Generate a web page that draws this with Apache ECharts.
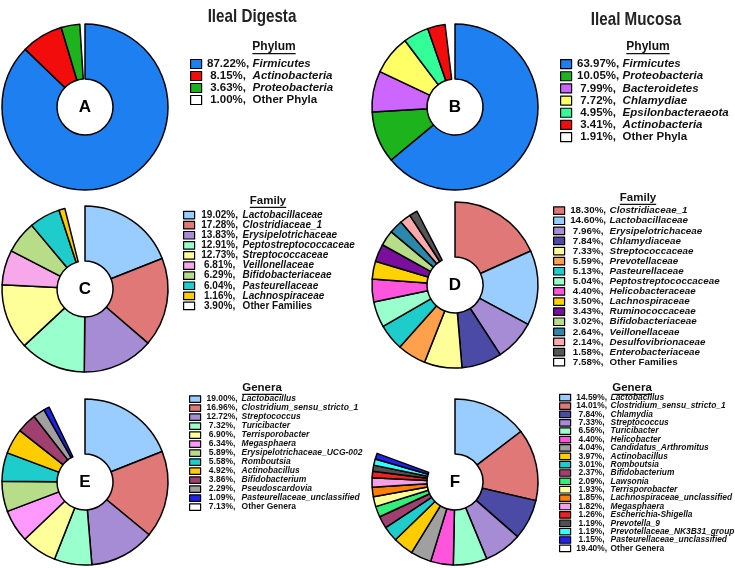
<!DOCTYPE html>
<html><head><meta charset="utf-8">
<script src="https://cdn.jsdelivr.net/npm/echarts@6/dist/echarts.min.js"></script>
<style>html,body{margin:0;padding:0;background:#fff}#c{width:735px;height:568px}</style>
</head><body><div id="c"></div>
<script>
// ---------- DATA ----------
const phylumDigestaNames  = ['Firmicutes','Actinobacteria','Proteobacteria','Other Phyla'];
const phylumDigestaValues = [87.22, 8.15, 3.63, 1.00];

const phylumMucosaNames  = ['Firmicutes','Proteobacteria','Bacteroidetes','Chlamydiae','Epsilonbacteraeota','Actinobacteria','Other Phyla'];
const phylumMucosaValues = [63.97, 10.05, 7.99, 7.72, 4.95, 3.41, 1.91];

const familyDigestaNames  = ['Lactobacillaceae','Clostridiaceae_1','Erysipelotrichaceae','Peptostreptococcaceae','Streptococcaceae','Veillonellaceae','Bifidobacteriaceae','Pasteurellaceae','Lachnospiraceae','Other Families'];
const familyDigestaValues = [19.02, 17.28, 13.83, 12.91, 12.73, 6.81, 6.29, 6.04, 1.16, 3.90];

const familyMucosaNames  = ['Clostridiaceae_1','Lactobacillaceae','Erysipelotrichaceae','Chlamydiaceae','Streptococcaceae','Prevotellaceae','Pasteurellaceae','Peptostreptococcaceae','Helicobacteraceae','Lachnospiraceae','Ruminococcaceae','Bifidobacteriaceae','Veillonellaceae','Desulfovibrionaceae','Enterobacteriaceae','Other Families'];
const familyMucosaValues = [18.30, 14.60, 7.96, 7.84, 7.33, 5.59, 5.13, 5.04, 4.40, 3.50, 3.43, 3.02, 2.64, 2.14, 1.58, 7.58];

const generaDigestaNames  = ['Lactobacillus','Clostridium_sensu_stricto_1','Streptococcus','Turicibacter','Terrisporobacter','Megasphaera','Erysipelotrichaceae_UCG-002','Romboutsia','Actinobacillus','Bifidobacterium','Pseudoscardovia','Pasteurellaceae_unclassified','Other Genera'];
const generaDigestaValues = [19.00, 16.96, 12.72, 7.32, 6.90, 6.34, 5.89, 5.58, 4.92, 3.86, 2.29, 1.09, 7.13];

const generaMucosaNames  = ['Lactobacillus','Clostridium_sensu_stricto_1','Chlamydia','Streptococcus','Turicibacter','Helicobacter','Candidatus_Arthromitus','Actinobacillus','Romboutsia','Bifidobacterium','Lawsonia','Terrisporobacter','Lachnospiraceae_unclassified','Megasphaera','Escherichia-Shigella','Prevotella_9','Prevotellaceae_NK3B31_group','Pasteurellaceae_unclassified','Other Genera'];
const generaMucosaValues = [14.59, 14.01, 7.84, 7.33, 6.56, 4.40, 4.04, 3.97, 3.01, 2.37, 2.09, 1.93, 1.85, 1.82, 1.26, 1.19, 1.19, 1.15, 19.40];

// ---------- STYLES ----------
const OTHER = null;
const phylumDigestaColors = ['#1e7ff0','#f20c0c','#1cb31c', OTHER];
const phylumMucosaColors  = ['#1e7ff0','#1cb31c','#cc66ff','#ffff66','#33ff99','#f20c0c', OTHER];
const familyDigestaColors = ['#99ccff','#e07878','#a68bd5','#99ffcc','#ffff99','#f7a8ea','#b8dd88','#1ecccc','#ffcc00', OTHER];
const familyMucosaColors  = ['#e07878','#99ccff','#a68bd5','#4b4ba5','#ffff99','#ffa04d','#1ecccc','#99ffcc','#ff55dd','#ffd200','#7a0f9e','#b8dd88','#2b88aa','#ffaaaa','#555555', OTHER];
const generaDigestaColors = ['#99ccff','#e07878','#a68bd5','#99ffcc','#ffff99','#ff99ff','#b8dd88','#1ecccc','#ffcc00','#a0406e','#a0a0a0','#2222ee', OTHER];
const generaMucosaColors  = ['#99ccff','#e07878','#4b4ba5','#a68bd5','#99ffcc','#ff55dd','#a0a0a0','#ffcc00','#1ecccc','#a0406e','#33ee77','#ffff99','#ff8000','#f5a0e6','#ee2222','#505050','#33ffff','#2222ee', OTHER];

const FONT = "'Liberation Sans', Arial, sans-serif";

const panels = [
  {names: phylumDigestaNames, values: phylumDigestaValues, colors: phylumDigestaColors, center:[85,107], letter:'A',
   title:'Phylum', titlePos:[274,47], titleSize:12,
   lg:{left:190, top:58, pitch:12, iw:11, ih:9, fs:11.5, nameX:252}},
  {names: phylumMucosaNames, values: phylumMucosaValues, colors: phylumMucosaColors, center:[455,107], letter:'B',
   title:'Phylum', titlePos:[648,47], titleSize:12,
   lg:{left:560, top:58, pitch:12.17, iw:11, ih:9, fs:11.5, nameX:622}},
  {names: familyDigestaNames, values: familyDigestaValues, colors: familyDigestaColors, center:[85,289], letter:'C',
   title:'Family', titlePos:[268,201], titleSize:11.5,
   lg:{left:183, top:210, pitch:10.1, iw:11, ih:7.5, fs:10, nameX:242}},
  {names: familyMucosaNames, values: familyMucosaValues, colors: familyMucosaColors, center:[455,285], letter:'D',
   title:'Family', titlePos:[638,198], titleSize:11.5,
   lg:{left:553, top:205.6, pitch:10.1, iw:11, ih:7.5, fs:9.8, nameX:609}},
  {names: generaDigestaNames, values: generaDigestaValues, colors: generaDigestaColors, center:[85,482], letter:'E',
   title:'Genera', titlePos:[262,388], titleSize:11.5,
   lg:{left:189, top:394.6, pitch:8.78, iw:11, ih:6.5, fs:8.5, nameX:241}},
  {names: generaMucosaNames, values: generaMucosaValues, colors: generaMucosaColors, center:[455,482], letter:'F',
   title:'Genera', titlePos:[632,388], titleSize:11.5,
   lg:{left:559, top:393.5, pitch:8.37, iw:11, ih:6.5, fs:8.4, nameX:610}}
];

const measureCtx = document.createElement('canvas').getContext('2d');
function textWidth(t, size){ measureCtx.font = 'bold ' + size + 'px ' + FONT; return measureCtx.measureText(t).width; }

const series = [], legends = [], graphics = [];
panels.forEach((p, idx) => {
  const last = p.names.length - 1;
  series.push({
    type:'pie', center:p.center, radius:[28,83], startAngle:90, clockwise:true,
    silent:true, animation:false, label:{show:false}, labelLine:{show:false},
    emphasis:{disabled:true},
    itemStyle:{borderColor:'#000', borderWidth:1.5},
    data: p.names.map((n,i) => ({
      name:n, value:p.values[i],
      itemStyle: p.colors[i] ? {color:p.colors[i]} : {color:'rgba(255,255,255,0)', borderWidth:0}
    }))
  });
  const pct = {};
  p.names.forEach((n,i) => pct[n] = p.values[i].toFixed(2) + '%,');
  const textStart = p.lg.left + p.lg.iw + 5;
  const pW = p.lg.nameX - textStart - 3;
  const base = {fontSize:p.lg.fs, fontWeight:'bold', fontFamily:FONT, color:'#111', lineHeight:p.lg.pitch};
  legends.push({
    orient:'vertical', left:p.lg.left, top:p.lg.top, padding:0, itemGap:0,
    itemWidth:p.lg.iw, itemHeight:p.lg.ih, icon:'rect', selectedMode:false,
    data: p.names.map((n,i) => ({name:n, icon:'rect',
      itemStyle:{color: p.colors[i] || '#ffffff', borderColor:'#000', borderWidth:1.2}})),
    formatter: (name) => '{p|' + pct[name] + '}' + (name === p.names[last] ? '{o|' : '{n|') + name + '}',
    textStyle: Object.assign({}, base, {
      rich:{
        p: Object.assign({}, base, {width:pW, align:'right'}),
        n: Object.assign({}, base, {fontStyle:'italic', padding:[0,0,0,3]}),
        o: Object.assign({}, base, {padding:[0,0,0,3]})
      }
    })
  });
  graphics.push({type:'text', x:p.center[0], y:p.center[1], z:10,
    style:{text:p.letter, fontSize:17, fontWeight:'bold', fontFamily:FONT, fill:'#000',
      align:'center', verticalAlign:'middle', textAlign:'center', textVerticalAlign:'middle'}});
  const w = textWidth(p.title, p.titleSize);
  graphics.push({type:'text', x:p.titlePos[0], y:p.titlePos[1], z:10,
    style:{text:p.title, fontSize:p.titleSize, fontWeight:'bold', fontFamily:FONT, fill:'#111',
      align:'center', verticalAlign:'middle', textAlign:'center', textVerticalAlign:'middle'}});
  graphics.push({type:'line', z:10, shape:{x1:p.titlePos[0]-w/2, y1:p.titlePos[1]+p.titleSize*0.55, x2:p.titlePos[0]+w/2, y2:p.titlePos[1]+p.titleSize*0.55},
    style:{stroke:'#111', lineWidth:1.2}});
});

graphics.push({type:'text', x:252, y:17, scaleX:0.8, z:10, style:{text:'Ileal Digesta', fontSize:19, fontWeight:'bold', fontFamily:FONT, fill:'#222',
  align:'center', verticalAlign:'middle', textAlign:'center', textVerticalAlign:'middle'}});
graphics.push({type:'text', x:636, y:20, scaleX:0.8, z:10, style:{text:'Ileal Mucosa', fontSize:19, fontWeight:'bold', fontFamily:FONT, fill:'#222',
  align:'center', verticalAlign:'middle', textAlign:'center', textVerticalAlign:'middle'}});

const chart = echarts.init(document.getElementById('c'), null, {renderer:'canvas'});
chart.setOption({
  animation:false,
  backgroundColor:'#fff',
  legend: legends,
  series: series,
  graphic: graphics
});
</script>
</body></html>
